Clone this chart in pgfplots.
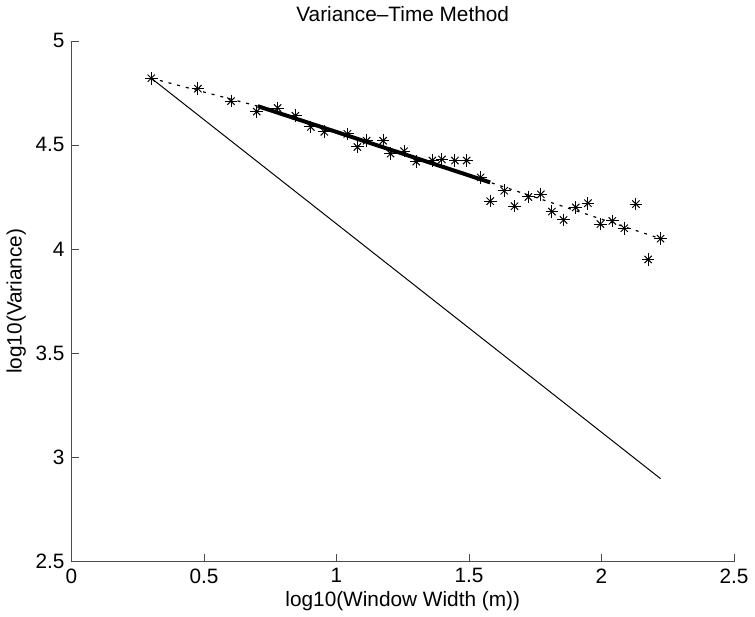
\documentclass[border=0pt]{standalone}
\usepackage{pgfplots}
\pgfplotsset{compat=1.18}
\usepackage{fontspec}
\setmainfont{Liberation Sans}

\pgfplotstableread{
x y
0.301 4.82
0.477 4.77
0.602 4.71
0.699 4.66
0.778 4.677
0.845 4.64
0.903 4.586
0.954 4.563
1.041 4.553
1.079 4.49
1.114 4.52
1.176 4.52
1.204 4.458
1.255 4.47
1.301 4.42
1.362 4.425
1.398 4.43
1.447 4.425
1.491 4.425
1.544 4.344
1.580 4.23
1.633 4.28
1.672 4.206
1.724 4.25
1.771 4.263
1.813 4.18
1.857 4.14
1.903 4.20
1.949 4.22
1.996 4.12
2.041 4.135
2.086 4.10
2.130 4.216
2.176 3.95
2.223 4.05
}\vartime

\begin{document}
\begin{tikzpicture}
\begin{axis}[
    scale only axis,
    width=334.5pt, height=263pt,
    xmin=0, xmax=2.5, ymin=2.5, ymax=5,
    axis x line=bottom, axis y line=left,
    axis line style={-, black!70},
    tick align=inside,
    major tick length=4pt,
    tick style={black!70},
    xtick={0,0.5,...,2.5},
    ytick={2.5,3,...,5},
    /pgf/number format/assume math mode=true,
    ticklabel style={font=\fontsize{10.5}{12}\selectfont},
    label style={font=\fontsize{10.5}{12}\selectfont},
    title style={font=\fontsize{10.5}{12}\selectfont},
    title={Variance--Time Method},
    xlabel={log10(Window Width (m))},
    ylabel={log10(Variance)},
    xlabel style={yshift=3pt},
    ylabel style={yshift=-2pt},
    clip=false,
]
% dotted piecewise fit
\addplot[black, line width=0.6pt, dash pattern=on 1.5pt off 3pt] coordinates {(0.301,4.82) (0.703,4.686) (1.58,4.32) (2.223,4.05)};
% asterisk markers (+ and x overlaid)
\addplot[black, only marks, mark=+, mark size=3.2pt, mark options={line width=0.5pt}] table {\vartime};
\addplot[black, only marks, mark=x, mark size=2.6pt, mark options={line width=0.5pt}] table {\vartime};
\addplot[black, line width=2pt] coordinates {(0.703,4.686) (1.58,4.32)};
\addplot[black, line width=0.5pt] coordinates {(0.301,4.82) (2.223,2.898)};
\end{axis}
\end{tikzpicture}
\end{document}
